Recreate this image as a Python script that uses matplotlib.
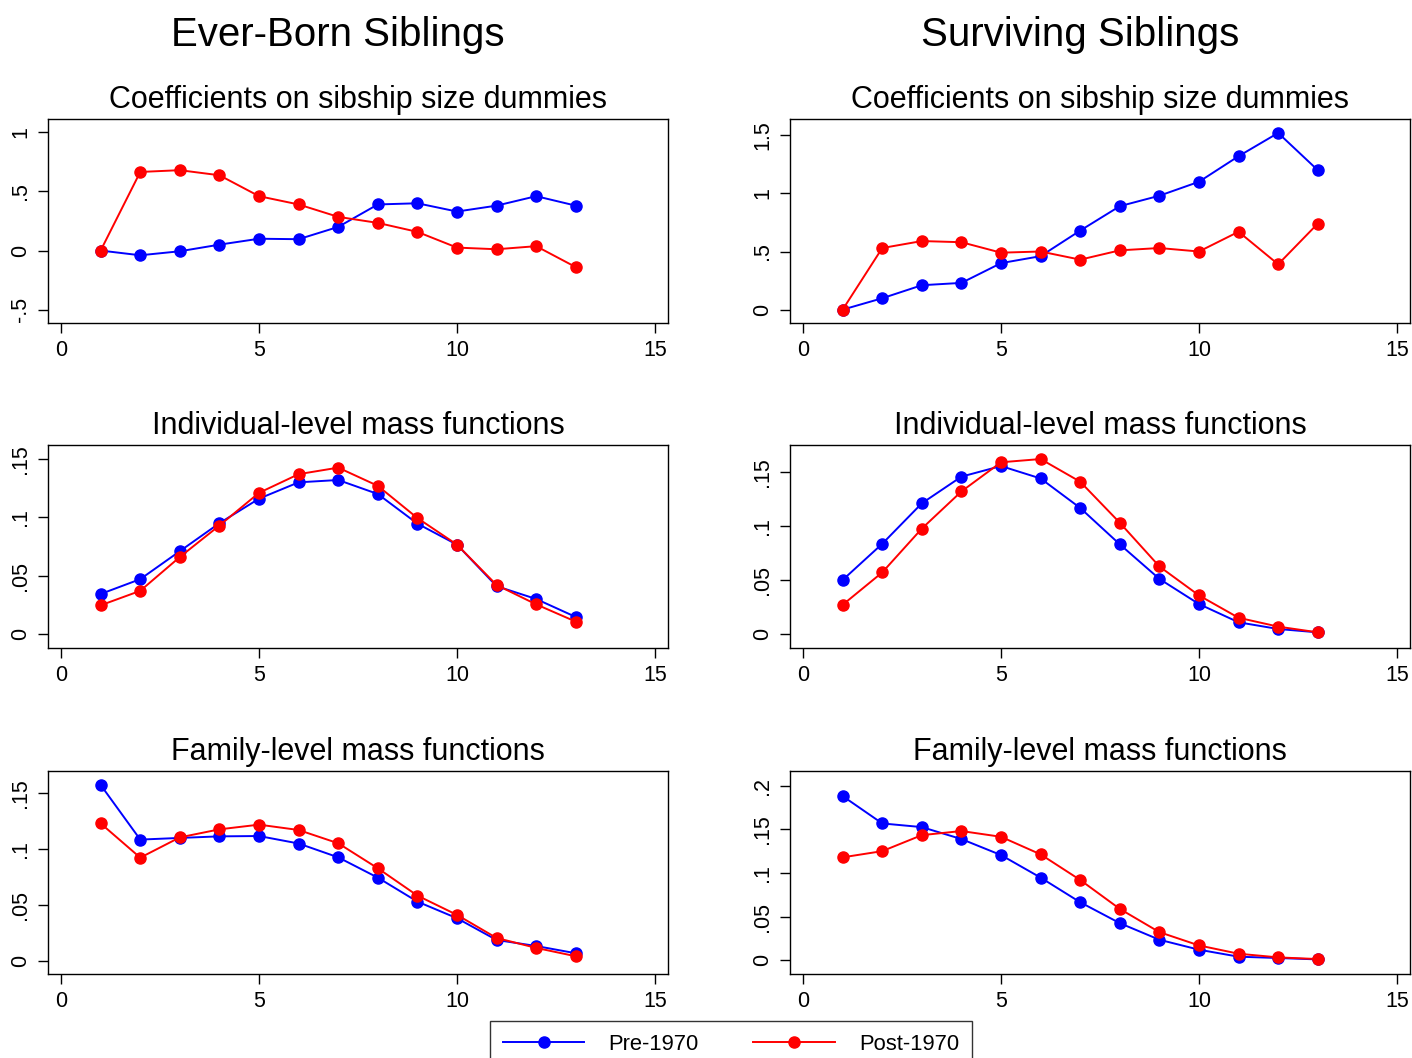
#!/usr/bin/env python3
"""
Sibship size figure: ever-born vs surviving siblings, pre/post 1970 cohorts
"""
import matplotlib
matplotlib.use("Agg")
import matplotlib.pyplot as plt
from matplotlib.lines import Line2D

plt.rcParams['font.family'] = ['Liberation Sans', 'DejaVu Sans']

# number of siblings
sibs = [1, 2, 3, 4, 5, 6, 7, 8, 9, 10, 11, 12, 13]

# Ever-born siblings
eb_coef_pre = [0.0, -0.04, -0.006, 0.05, 0.10, 0.096, 0.20, 0.39, 0.40, 0.33, 0.38, 0.46, 0.38]
eb_coef_post = [0.0, 0.665, 0.68, 0.637, 0.46, 0.39, 0.285, 0.234, 0.158, 0.025, 0.011, 0.037, -0.14]
eb_ind_pre = [0.0343, 0.047, 0.071, 0.095, 0.116, 0.130, 0.132, 0.120, 0.0946, 0.0766, 0.041, 0.030, 0.0146]
eb_ind_post = [0.0246, 0.037, 0.066, 0.093, 0.121, 0.137, 0.1426, 0.127, 0.0994, 0.0766, 0.042, 0.0254, 0.0106]
eb_fam_pre = [0.1575, 0.1085, 0.110, 0.1114, 0.1117, 0.105, 0.0926, 0.0744, 0.0529, 0.038, 0.0185, 0.0131, 0.0066]
eb_fam_post = [0.123, 0.0923, 0.1105, 0.1177, 0.1219, 0.1171, 0.1052, 0.0828, 0.0583, 0.041, 0.0203, 0.0114, 0.0039]

# Surviving siblings
sv_coef_pre = [0.0, 0.098, 0.21, 0.23, 0.40, 0.46, 0.68, 0.89, 0.98, 1.10, 1.32, 1.52, 1.20]
sv_coef_post = [0.0, 0.53, 0.59, 0.58, 0.49, 0.50, 0.43, 0.51, 0.53, 0.50, 0.67, 0.39, 0.74]
sv_ind_pre = [0.050, 0.0835, 0.121, 0.1457, 0.1555, 0.144, 0.1167, 0.083, 0.051, 0.0277, 0.0108, 0.0046, 0.0015]
sv_ind_post = [0.027, 0.057, 0.0976, 0.132, 0.159, 0.162, 0.141, 0.103, 0.0625, 0.0357, 0.015, 0.0068, 0.0015]
sv_fam_pre = [0.188, 0.1567, 0.1525, 0.1388, 0.1205, 0.0947, 0.0665, 0.0426, 0.0236, 0.0122, 0.0042, 0.0027, 0.0011]
sv_fam_post = [0.1179, 0.125, 0.1433, 0.148, 0.1414, 0.1213, 0.092, 0.0589, 0.0323, 0.0171, 0.0076, 0.0034, 0.0015]

col_titles = ['Ever-Born Siblings', 'Surviving Siblings']
row_titles = ['Coefficients on sibship size dummies',
              'Individual-level mass functions',
              'Family-level mass functions']
series_labels = ['Pre-1970', 'Post-1970']

x_ticks = [0, 5, 10, 15]
coef_ticks_eb = [-0.5, 0, 0.5, 1]
coef_labels_eb = ['-.5', '0', '.5', '1']
coef_ticks_sv = [0, 0.5, 1, 1.5]
coef_labels_sv = ['0', '.5', '1', '1.5']
mass_ticks = [0, 0.05, 0.1, 0.15]
mass_labels = ['0', '.05', '.1', '.15']
mass_ticks_wide = [0, 0.05, 0.1, 0.15, 0.2]
mass_labels_wide = ['0', '.05', '.1', '.15', '.2']

PRE_COLOR = '#0000ff'
POST_COLOR = '#ff0000'
LW = 1.4
MS = 8

W, H = 1412, 1058
fig = plt.figure(figsize=(W / 100, H / 100), dpi=100)


def px_axes(x0, y0, x1, y1):
    """ピクセル座標(左上原点)で軸を作る"""
    return fig.add_axes([x0 / W, 1 - y1 / H, (x1 - x0) / W, (y1 - y0) / H])


panels = [
    # (column, row, pre, post, ticks, labels, ylim)
    (0, 0, eb_coef_pre, eb_coef_post, coef_ticks_eb, coef_labels_eb, (-0.613, 1.113)),
    (1, 0, sv_coef_pre, sv_coef_post, coef_ticks_sv, coef_labels_sv, (-0.115, 1.64)),
    (0, 1, eb_ind_pre, eb_ind_post, mass_ticks, mass_labels, (-0.012, 0.162)),
    (1, 1, sv_ind_pre, sv_ind_post, mass_ticks, mass_labels, (-0.013, 0.175)),
    (0, 2, eb_fam_pre, eb_fam_post, mass_ticks, mass_labels, (-0.012, 0.170)),
    (1, 2, sv_fam_pre, sv_fam_post, mass_ticks_wide, mass_labels_wide, (-0.0156, 0.2167)),
]

col_x = [(48, 668), (790, 1410)]
row_y = [(119, 323), (445, 648), (771, 974)]

for col, row, pre, post, yt, yl, ylim in panels:
    x0, x1 = col_x[col]
    y0, y1 = row_y[row]
    ax = px_axes(x0, y0, x1, y1)
    ax.plot(sibs, pre, color=PRE_COLOR, lw=LW, marker='o', ms=MS, mec=PRE_COLOR)
    ax.plot(sibs, post, color=POST_COLOR, lw=LW, marker='o', ms=MS, mec=POST_COLOR)
    ax.set_xlim(-0.33, 15.33)
    ax.set_ylim(*ylim)
    ax.set_xticks(x_ticks)
    ax.set_xticklabels([str(t) for t in x_ticks])
    ax.set_yticks(yt)
    ax.set_yticklabels(yl, rotation=90, va='center')
    ax.tick_params(axis='both', labelsize=15.5, length=7, width=1, pad=5, color='black')
    for sp in ax.spines.values():
        sp.set_linewidth(1.0)
        sp.set_color('black')
    ax.set_title(row_titles[row], fontsize=22, pad=8)

# column titles
fig.text(338 / W, 1 - 46 / H, col_titles[0], fontsize=29, ha='center', va='baseline')
fig.text(1080 / W, 1 - 46 / H, col_titles[1], fontsize=29, ha='center', va='baseline')

# legend
handles = [
    Line2D([], [], color=PRE_COLOR, lw=LW, marker='o', ms=MS),
    Line2D([], [], color=POST_COLOR, lw=LW, marker='o', ms=MS),
]
leg = fig.legend(handles, series_labels, loc='upper center',
                 bbox_to_anchor=(731 / W, 1 - 1021 / H), ncol=2,
                 fontsize=15.8, handlelength=3.7, handletextpad=1.1,
                 columnspacing=2.5, borderpad=0.6, borderaxespad=0,
                 frameon=True, fancybox=False, edgecolor='black')
leg.get_frame().set_linewidth(1.0)

fig.savefig('out.png', dpi=100, facecolor='white')
